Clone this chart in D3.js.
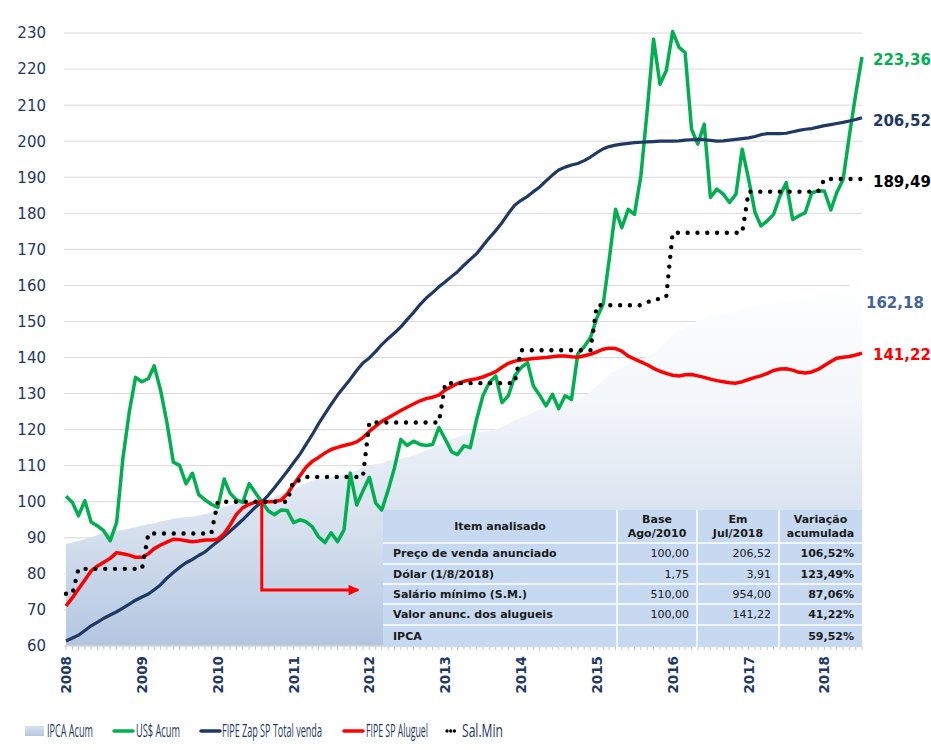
<!DOCTYPE html>
<html>
<head>
<meta charset="utf-8">
<script src="https://cdn.jsdelivr.net/npm/d3@7"></script>
<style>
  html, body { margin: 0; padding: 0; background: #ffffff; }
  svg { display: block; }
</style>
</head>
<body>
<svg id="chart" width="931" height="750"></svg>
<script>
// ---------------- DATA (monthly, Jan 2008 .. Jul 2018, base Aug/2010 = 100) ----------------
const startMonth = "2008-01";
const yTicks = [60, 70, 80, 90, 100, 110, 120, 130, 140, 150, 160, 170, 180, 190, 200, 210, 220, 230];
const yearTicks = [2008, 2009, 2010, 2011, 2012, 2013, 2014, 2015, 2016, 2017, 2018];

const ipcaAcum = [
  88.3, 88.7, 89.1, 89.6, 90.1, 90.8, 91.3, 91.6, 91.9, 92.2, 92.6, 92.9,
  93.4, 93.8, 94.0, 94.5, 94.9, 95.3, 95.5, 95.7, 95.9, 96.2, 96.6, 96.95,
  97.7, 98.5, 99.0, 99.6, 100.0, 100.0, 100.0, 100.0, 100.5, 101.3, 102.1, 102.7,
  103.5, 104.3, 105.1, 105.9, 106.4, 106.5, 106.7, 107.1, 107.6, 108.0, 108.6, 109.4,
  110.0, 110.5, 110.7, 111.4, 111.8, 111.9, 112.4, 112.9, 113.5, 114.2, 114.9, 115.8,
  116.7, 117.4, 118.0, 118.6, 119.1, 119.4, 119.4, 119.7, 120.1, 120.8, 121.5, 122.6,
  123.3, 124.0, 124.9, 125.7, 126.3, 126.8, 126.8, 127.1, 127.8, 128.3, 129.3, 130.5,
  132.2, 133.8, 135.5, 136.4, 137.1, 138.3, 139.1, 139.4, 140.2, 141.2, 142.7, 144.4,
  146.3, 147.6, 148.3, 149.2, 150.3, 150.9, 151.7, 152.2, 152.3, 152.5, 152.7, 153.5,
  153.9, 154.4, 154.9, 155.0, 155.5, 155.1, 155.5, 155.8, 155.9, 156.4, 156.9, 158.0,
  158.4, 158.9, 159.1, 159.4, 160.0, 161.8, 162.18
];

const usdAcum = [
  101.5, 99.8, 96.1, 100.3, 94.4, 93.3, 91.9, 89.2, 94.3, 112.0, 125.0, 134.5,
  133.3, 134.2, 137.7, 130.8, 122.0, 111.0, 110.1, 105.0, 107.9, 102.0, 100.5, 99.3,
  98.4, 106.3, 102.4, 100.5, 99.8, 105.0, 102.5, 100.0, 97.5, 96.4, 97.7, 97.6,
  94.2, 95.0, 94.5, 93.1, 90.3, 88.7, 91.4, 88.9, 92.2, 108.0, 99.1, 103.0,
  106.8, 99.6, 97.7, 103.3, 109.4, 117.3, 115.6, 116.8, 115.9, 115.6, 115.9, 120.6,
  117.3, 113.8, 113.1, 115.5, 115.0, 122.9, 129.4, 133.1, 134.9, 127.5, 129.4, 134.9,
  137.2, 138.6, 132.1, 129.5, 126.6, 129.8, 125.8, 129.4, 128.4, 141.0, 143.0, 145.5,
  151.0, 155.0, 167.0, 181.1, 176.0, 181.1, 179.7, 190.4, 208.9, 228.3, 215.8, 219.5,
  230.4, 226.0, 224.6, 203.3, 199.2, 204.7, 184.4, 186.7, 185.3, 183.0, 185.3, 197.8,
  189.4, 180.2, 176.5, 177.9, 179.7, 184.8, 188.5, 178.3, 179.3, 180.2, 185.7, 186.2,
  186.2, 180.9, 185.7, 189.4, 201.5, 213.1, 223.36
];

const fipeZapVenda = [
  61.4, 62.2, 63.0, 64.3, 65.6, 66.6, 67.7, 68.6, 69.5, 70.5, 71.6, 72.7,
  73.6, 74.4, 75.6, 77.0, 78.8, 80.4, 81.8, 83.1, 84.0, 85.1, 86.1, 87.6,
  89.0, 90.4, 91.8, 93.4, 95.0, 96.8, 98.5, 100.0, 101.8, 103.9, 106.2, 108.4,
  110.8, 113.2, 115.8, 118.6, 121.6, 124.4, 127.0, 129.6, 131.8, 134.0, 136.4, 138.5,
  139.9, 141.7, 143.6, 145.3, 146.8, 148.5, 150.5, 152.5, 154.7, 156.5, 158.0, 159.6,
  161.0, 162.5, 163.8, 165.6, 167.2, 168.8, 171.0, 173.2, 175.2, 177.4, 180.0, 182.2,
  183.6, 184.7, 186.0, 187.3, 189.0, 190.6, 192.0, 192.8, 193.4, 193.8, 194.6, 195.6,
  196.8, 197.9, 198.5, 198.9, 199.2, 199.4, 199.6, 199.7, 199.8, 199.9, 200.0, 200.0,
  200.0, 200.1, 200.3, 200.4, 200.5, 200.4, 200.2, 200.0, 200.1, 200.3, 200.5, 200.7,
  200.9, 201.3, 201.8, 202.1, 202.1, 202.1, 202.2, 202.6, 203.0, 203.3, 203.5, 203.9,
  204.3, 204.6, 204.9, 205.2, 205.6, 206.0, 206.52
];

const fipeAluguel = [
  71.1, 73.4, 75.8, 78.3, 80.8, 82.2, 83.2, 84.3, 85.9, 85.6, 85.2, 84.6,
  84.6, 85.6, 87.0, 88.0, 88.8, 89.6, 89.5, 89.2, 88.9, 89.1, 89.4, 89.4,
  89.6, 91.2, 93.5, 96.5, 98.3, 99.3, 99.9, 100.0, 100.0, 100.1, 100.4, 102.1,
  104.8, 107.2, 109.5, 111.2, 112.3, 113.5, 114.5, 115.1, 115.6, 116.0, 116.6, 117.8,
  119.5, 121.0, 122.3, 123.3, 124.3, 125.3, 126.2, 127.1, 128.0, 128.6, 129.0, 129.6,
  131.0, 132.0, 132.8, 133.4, 133.8, 134.1, 134.6, 135.3, 136.1, 137.3, 138.4, 139.0,
  139.3, 139.5, 139.7, 139.9, 140.0, 140.2, 140.4, 140.4, 140.2, 140.1, 140.5, 140.9,
  141.6, 142.3, 142.6, 142.5, 141.8, 140.4, 139.6, 138.8, 138.0, 137.0, 136.2, 135.6,
  135.1, 134.9, 135.2, 135.3, 134.9, 134.5, 134.0, 133.6, 133.3, 133.0, 132.9, 133.3,
  133.9, 134.5, 134.9, 135.6, 136.4, 136.8, 136.9, 136.5, 135.9, 135.7, 136.0, 136.7,
  137.8, 138.9, 139.8, 140.1, 140.3, 140.7, 141.22
];

const salMin = [
  74.5, 74.5, 81.4, 81.4, 81.4, 81.4, 81.4, 81.4, 81.4, 81.4, 81.4, 81.4,
  81.4, 91.2, 91.2, 91.2, 91.2, 91.2, 91.2, 91.2, 91.2, 91.2, 91.2, 91.2,
  100, 100, 100, 100, 100, 100, 100, 100, 100, 100, 100, 100,
  105.9, 105.9, 106.9, 106.9, 106.9, 106.9, 106.9, 106.9, 106.9, 106.9, 106.9, 106.9,
  122, 122, 122, 122, 122, 122, 122, 122, 122, 122, 122, 122,
  132.9, 132.9, 132.9, 132.9, 132.9, 132.9, 132.9, 132.9, 132.9, 132.9, 132.9, 132.9,
  142, 142, 142, 142, 142, 142, 142, 142, 142, 142, 142, 142,
  154.5, 154.5, 154.5, 154.5, 154.5, 154.5, 154.5, 154.5, 155.3, 156.2, 156.2, 156.8,
  174.6, 174.6, 174.6, 174.6, 174.6, 174.6, 174.6, 174.6, 174.6, 174.6, 174.6, 174.6,
  186, 186, 186, 186, 186, 186, 186, 186, 186, 186, 186, 186,
  189.49, 189.49, 189.49, 189.49, 189.49, 189.49, 189.49
];

const endLabels = [
  { text: "223,36", value: 223.36, color: "#00B050", dx: 11, dy: 3 },
  { text: "206,52", value: 206.52, color: "#1F3864", dx: 11, dy: 3 },
  { text: "189,49", value: 189.49, color: "#000000", dx: 11, dy: 3 },
  { text: "162,18", value: 162.18, color: "#44639A", dx: 4, dy: 25 },
  { text: "141,22", value: 141.22, color: "#FF0000", dx: 11, dy: 1 }
];

const tableHeader = [["Item analisado"], ["Base", "Ago/2010"], ["Em", "Jul/2018"], ["Variação", "acumulada"]];
const tableRows = [
  ["Preço de venda anunciado", "100,00", "206,52", "106,52%"],
  ["Dólar (1/8/2018)", "1,75", "3,91", "123,49%"],
  ["Salário mínimo (S.M.)", "510,00", "954,00", "87,06%"],
  ["Valor anunc. dos alugueis", "100,00", "141,22", "41,22%"],
  ["IPCA", "", "", "59,52%"]
];

const legendItems = ["IPCA Acum", "US$ Acum", "FIPE Zap SP Total venda", "FIPE SP Aluguel", "Sal.Min"];

// ---------------- CHART ----------------
const svg = d3.select("#chart");
const parse = d3.timeParse("%Y-%m");
const t0 = parse(startMonth);
const dates = d3.range(ipcaAcum.length).map(i => d3.timeMonth.offset(t0, i));

const plot = { left: 64, right: 862, top: 33, bottom: 646 };
const x = d3.scaleTime().domain([dates[0], dates[dates.length - 1]]).range([66, 862]);
const y = d3.scaleLinear().domain([60, 230]).range([646, 33]);

const defs = svg.append("defs");
const grad = defs.append("linearGradient").attr("id", "ipcaGrad")
  .attr("gradientUnits", "userSpaceOnUse").attr("x1", 0).attr("y1", 275).attr("x2", 0).attr("y2", 646);
grad.append("stop").attr("offset", 0).attr("stop-color", "#ffffff");
grad.append("stop").attr("offset", 0.35).attr("stop-color", "#f3f6fa");
grad.append("stop").attr("offset", 0.72).attr("stop-color", "#d3deed");
grad.append("stop").attr("offset", 1).attr("stop-color", "#b3c6e1");

const lgGrad = defs.append("linearGradient").attr("id", "legGrad")
  .attr("x1", 0).attr("y1", 0).attr("x2", 0).attr("y2", 1);
lgGrad.append("stop").attr("offset", 0).attr("stop-color", "#d9e2ef");
lgGrad.append("stop").attr("offset", 1).attr("stop-color", "#b5c7e1");

// gridlines
svg.append("g").selectAll("line").data(yTicks).join("line")
  .attr("x1", plot.left).attr("x2", plot.right)
  .attr("y1", d => y(d)).attr("y2", d => y(d))
  .attr("stroke", "#D9D9D9").attr("stroke-width", 1);

// y labels
svg.append("g").selectAll("text").data(yTicks).join("text")
  .attr("x", 46).attr("y", d => y(d)).attr("dy", "0.36em")
  .attr("text-anchor", "end")
  .attr("font-family", "'DejaVu Sans', Verdana, sans-serif")
  .attr("font-size", 15).attr("fill", "#1F3864")
  .text(d => d);

// IPCA area
const series = dates.map((d, i) => ({ d, ipca: ipcaAcum[i], usd: usdAcum[i], venda: fipeZapVenda[i], alug: fipeAluguel[i], sal: salMin[i] }));
svg.append("path").datum(series)
  .attr("d", d3.area().x(p => x(p.d)).y0(y(60)).y1(p => y(p.ipca)))
  .attr("fill", "url(#ipcaGrad)");

// x axis: minor monthly ticks
svg.append("line").attr("x1", plot.left).attr("x2", plot.right).attr("y1", y(60)).attr("y2", y(60))
  .attr("stroke", "#D9D9D9");
svg.append("g").selectAll("line").data(dates).join("line")
  .attr("x1", d => x(d)).attr("x2", d => x(d))
  .attr("y1", y(60)).attr("y2", y(60) + 4)
  .attr("stroke", "#C8C8C8").attr("stroke-width", 1);

// year labels (rotated)
svg.append("g").selectAll("text").data(yearTicks).join("text")
  .attr("transform", d => `translate(${x(new Date(d, 0, 1)) + 5},${y(60) + 10}) rotate(-90)`)
  .attr("text-anchor", "end")
  .attr("font-family", "'DejaVu Sans', Verdana, sans-serif")
  .attr("font-weight", "bold")
  .attr("font-size", 13.5).attr("fill", "#1F3864")
  .text(d => d);

// lines
function drawLine(key, color, width, dash) {
  const p = svg.append("path").datum(series)
    .attr("d", d3.line().x(s => x(s.d)).y(s => y(s[key])))
    .attr("fill", "none").attr("stroke", color).attr("stroke-width", width)
    .attr("stroke-linejoin", "round");
  if (dash) p.attr("stroke-dasharray", dash).attr("stroke-linecap", "round");
  return p;
}
drawLine("usd", "#00B050", 3.5);
drawLine("venda", "#1F3864", 3.2);
drawLine("alug", "#FF0000", 3.5);
drawLine("sal", "#000000", 4.4, "0 9.8");

// red arrow annotation (Aug/2010 base)
const baseDate = parse("2010-08");
const arrowEnd = parse("2012-01");
defs.append("marker").attr("id", "arrowHead").attr("viewBox", "0 0 10 10")
  .attr("refX", 9).attr("refY", 5).attr("markerWidth", 4.2).attr("markerHeight", 3.6)
  .attr("markerUnits", "strokeWidth").attr("orient", "auto")
  .append("path").attr("d", "M0,0 L10,5 L0,10 Z").attr("fill", "#FF0000");
svg.append("path")
  .attr("d", `M${x(baseDate)},${y(100)} V${y(75.5)} H${x(arrowEnd) - 11}`)
  .attr("fill", "none").attr("stroke", "#FF0000").attr("stroke-width", 3)
  .attr("marker-end", "url(#arrowHead)");

// end labels
svg.append("g").selectAll("text").data(endLabels).join("text")
  .attr("x", d => plot.right + d.dx).attr("y", d => y(d.value) + d.dy)
  .attr("dy", "0.36em")
  .attr("font-family", "'DejaVu Sans', Verdana, sans-serif")
  .attr("font-weight", "bold").attr("font-size", 15)
  .attr("fill", d => d.color).text(d => d.text);

// table
const tbl = { x: 383, y: 510, colX: [383, 617, 697, 779, 862], rowY: [510, 543, 564, 584, 604, 625, 647] };
const tg = svg.append("g");
tg.append("rect").attr("x", tbl.x).attr("y", tbl.y)
  .attr("width", tbl.colX[4] - tbl.x).attr("height", tbl.rowY[6] - tbl.y)
  .attr("fill", "#C6D9F0");
tbl.rowY.slice(1, 6).forEach(yy => {
  tg.append("line").attr("x1", tbl.x).attr("x2", tbl.colX[4]).attr("y1", yy).attr("y2", yy)
    .attr("stroke", "#ffffff").attr("stroke-width", 1.5);
});
tbl.colX.slice(1, 4).forEach(xx => {
  tg.append("line").attr("x1", xx).attr("x2", xx).attr("y1", tbl.y).attr("y2", tbl.rowY[6])
    .attr("stroke", "#ffffff").attr("stroke-width", 1.5);
});
const tFont = "'DejaVu Sans', Verdana, sans-serif";
tableHeader.forEach((lines, c) => {
  const cx = (tbl.colX[c] + tbl.colX[c + 1]) / 2;
  const cy = (tbl.rowY[0] + tbl.rowY[1]) / 2;
  lines.forEach((ln, k) => {
    tg.append("text").attr("x", cx)
      .attr("y", cy + (k - (lines.length - 1) / 2) * 14).attr("dy", "0.36em")
      .attr("text-anchor", "middle").attr("font-family", tFont)
      .attr("font-weight", "bold").attr("font-size", 11).attr("fill", "#1a1a1a").text(ln);
  });
});
tableRows.forEach((row, r) => {
  const cy = (tbl.rowY[r + 1] + tbl.rowY[r + 2]) / 2;
  row.forEach((val, c) => {
    const t = tg.append("text").attr("y", cy).attr("dy", "0.36em")
      .attr("font-family", tFont).attr("font-size", 11).attr("fill", "#1a1a1a").text(val);
    if (c === 0) t.attr("x", tbl.colX[0] + 10).attr("font-weight", "bold");
    else t.attr("x", tbl.colX[c + 1] - 8).attr("text-anchor", "end")
      .attr("font-weight", c === 3 ? "bold" : "normal");
  });
});

// legend (condensed text, as in the reference)
const lg = svg.append("g").attr("font-family", "'Liberation Sans Narrow', 'Arial Narrow', 'Open Sans', sans-serif")
  .attr("font-size", 17.5).attr("fill", "#1F3864");
const ly = 731;
const legendPos = [
  { sx: 25, ex: 44, tx: 47, w: 46 },
  { sx: 114, ex: 133, tx: 136, w: 44 },
  { sx: 201, ex: 220, tx: 222, w: 100 },
  { sx: 344, ex: 363, tx: 366, w: 62 },
  { sx: 447, ex: 458, tx: 462, w: 41 }
];
lg.append("rect").attr("x", legendPos[0].sx).attr("y", ly - 5).attr("width", legendPos[0].ex - legendPos[0].sx).attr("height", 10)
  .attr("fill", "url(#legGrad)");
lg.append("line").attr("x1", legendPos[1].sx).attr("x2", legendPos[1].ex).attr("y1", ly).attr("y2", ly)
  .attr("stroke", "#00B050").attr("stroke-width", 3.5).attr("stroke-linecap", "round");
lg.append("line").attr("x1", legendPos[2].sx).attr("x2", legendPos[2].ex).attr("y1", ly).attr("y2", ly)
  .attr("stroke", "#1F3864").attr("stroke-width", 3.5).attr("stroke-linecap", "round");
lg.append("line").attr("x1", legendPos[3].sx).attr("x2", legendPos[3].ex).attr("y1", ly).attr("y2", ly)
  .attr("stroke", "#FF0000").attr("stroke-width", 3.5).attr("stroke-linecap", "round");
lg.append("line").attr("x1", legendPos[4].sx).attr("x2", legendPos[4].ex).attr("y1", ly).attr("y2", ly)
  .attr("stroke", "#000000").attr("stroke-width", 3.3).attr("stroke-linecap", "round").attr("stroke-dasharray", "0 3.7");
legendItems.forEach((name, i) => {
  const t = lg.append("text").attr("x", 0).attr("y", 0).attr("dy", "0.35em").text(name);
  const natural = t.node().getComputedTextLength();
  const k = legendPos[i].w / natural;
  t.attr("transform", `translate(${legendPos[i].tx},${ly}) scale(${k},1)`);
});
</script>
</body>
</html>
